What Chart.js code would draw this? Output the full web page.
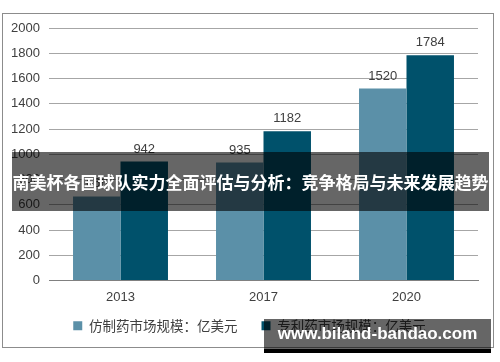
<!DOCTYPE html>
<html>
<head>
<meta charset="utf-8">
<script src="https://cdn.jsdelivr.net/npm/chart.js@4/dist/chart.umd.min.js"></script>
<style>
  html, body { margin: 0; padding: 0; background: #fff; }
  #wrap { position: relative; width: 500px; height: 362px; overflow: hidden; }
  #c { position: absolute; left: 0; top: 0; }
  #frame { position: absolute; left: 2px; top: 13px; width: 490px; height: 333px; border: 1px solid #8c8c8c; pointer-events: none; }
  #banner { position: absolute; left: 12px; top: 152px; width: 477px; height: 59px; background: rgba(0,0,0,0.6);
            color: #fff; font: bold 17px "Noto Sans CJK SC", sans-serif; line-height: 59px; text-align: center; white-space: nowrap; }
  #wm { position: absolute; left: 264px; top: 319px; width: 227px; height: 30px; background: rgba(0,0,0,0.6);
        color: #fff; font: bold 17px "Liberation Sans", Arial, sans-serif; line-height: 29px; text-align: center; white-space: nowrap; }
  #wmbar { position: absolute; left: 264px; top: 349px; width: 227px; height: 4px; background: #000; }
</style>
</head>
<body>
<div id="wrap">
  <canvas id="c" width="500" height="362"></canvas>
  <div id="frame"></div>
  <div id="banner">南美杯各国球队实力全面评估与分析：竞争格局与未来发展趋势</div>
  <div id="wm">www.biland-bandao.com</div>
  <div id="wmbar"></div>
</div>
<script>
const categories = ['2013', '2017', '2020'];
const genericLabel = '仿制药市场规模：亿美元';
const patentLabel = '专利药市场规模：亿美元';
const genericValues = [666, 935, 1520];
const patentValues = [942, 1182, 1784];
const yTicksMin = 0, yTicksMax = 2000, yTickStep = 200;

const valueLabels = {
  id: 'valueLabels',
  afterLayout(chart) {
    // let the x-axis labels extend below the fixed axis box without clipping
    const x = chart.scales.x;
    x.bottom = x.top + 32;
    // centre the legend on the whole page width, as in the reference
    const lg = chart.legend;
    if (lg) { lg.left += 10.5; lg.right += 10.5; }
  },
  afterDatasetsDraw(chart) {
    const ctx = chart.ctx;
    ctx.save();
    ctx.font = '13px "Liberation Sans", Arial, sans-serif';
    ctx.fillStyle = '#404040';
    ctx.textAlign = 'center';
    ctx.textBaseline = 'bottom';
    chart.data.datasets.forEach((ds, i) => {
      chart.getDatasetMeta(i).data.forEach((bar, j) => {
        ctx.fillText(String(ds.data[j]), bar.x, bar.y - 6);
      });
    });
    ctx.restore();
  }
};

new Chart(document.getElementById('c'), {
  type: 'bar',
  data: {
    labels: categories,
    datasets: [
      { label: genericLabel, data: genericValues, backgroundColor: '#5b90a8', borderWidth: 0 },
      { label: patentLabel, data: patentValues, backgroundColor: '#00516b', borderWidth: 0 }
    ]
  },
  options: {
    responsive: false,
    animation: false,
    devicePixelRatio: 1,
    categoryPercentage: 0.664,
    barPercentage: 1.0,
    layout: { padding: { left: 0, right: 22, top: 28, bottom: 19.5 } },
    plugins: {
      tooltip: { enabled: false },
      legend: {
        position: 'bottom',
        labels: {
          boxWidth: 9, boxHeight: 9, padding: 24,
          color: '#404040',
          font: { family: '"Noto Sans CJK SC", sans-serif', size: 13.5 }
        }
      }
    },
    scales: {
      x: {
        grid: { display: false, drawTicks: false },
        border: { display: true, color: '#808080', width: 1 },
        ticks: { color: '#404040', padding: 9, font: { family: '"Liberation Sans", Arial, sans-serif', size: 13 } },
        afterFit(s) { s.height = 14.5; }
      },
      y: {
        min: yTicksMin, max: yTicksMax,
        grid: { color: '#a6a6a6', lineWidth: 1, drawTicks: false },
        border: { display: false },
        ticks: { stepSize: yTickStep, color: '#404040', padding: 9,
                 font: { family: '"Liberation Sans", Arial, sans-serif', size: 13 },
                 callback: (v) => String(v) },
        afterFit(s) { s.width = 49; }
      }
    }
  },
  plugins: [valueLabels]
});
</script>
</body>
</html>
